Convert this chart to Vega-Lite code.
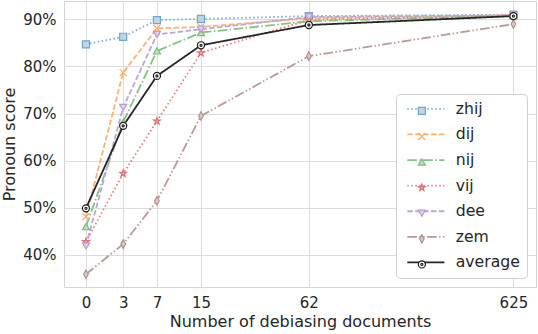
{
  "$schema": "https://vega.github.io/schema/vega-lite/v6.json",
  "width": 472,
  "height": 286,
  "autosize": {"type": "none"},
  "padding": {"left": 64, "top": 1, "right": 2, "bottom": 47},
  "background": "white",
  "config": {
    "font": "DejaVu Sans",
    "view": {"stroke": "#d4d4d4", "strokeWidth": 1},
    "axis": {
      "grid": true,
      "gridColor": "#dcdcdc",
      "gridWidth": 1,
      "domain": false,
      "ticks": false,
      "labelFont": "DejaVu Sans",
      "titleFont": "DejaVu Sans",
      "labelFontSize": 15,
      "titleFontSize": 16,
      "labelColor": "#262626",
      "titleColor": "#262626",
      "titleFontWeight": "normal"
    },
    "legend": {
      "labelFont": "DejaVu Sans",
      "labelFontSize": 15.7,
      "labelColor": "#262626"
    }
  },
  "data": {
    "values": [
      {"doc": 0, "series": "zhij", "score": 0.847},
      {"doc": 3, "series": "zhij", "score": 0.863},
      {"doc": 7, "series": "zhij", "score": 0.8985},
      {"doc": 15, "series": "zhij", "score": 0.901},
      {"doc": 62, "series": "zhij", "score": 0.907},
      {"doc": 625, "series": "zhij", "score": 0.910},
      {"doc": 0, "series": "dij", "score": 0.481},
      {"doc": 3, "series": "dij", "score": 0.787},
      {"doc": 7, "series": "dij", "score": 0.881},
      {"doc": 15, "series": "dij", "score": 0.884},
      {"doc": 62, "series": "dij", "score": 0.902},
      {"doc": 625, "series": "dij", "score": 0.909},
      {"doc": 0, "series": "nij", "score": 0.460},
      {"doc": 3, "series": "nij", "score": 0.682},
      {"doc": 7, "series": "nij", "score": 0.833},
      {"doc": 15, "series": "nij", "score": 0.872},
      {"doc": 62, "series": "nij", "score": 0.896},
      {"doc": 625, "series": "nij", "score": 0.908},
      {"doc": 0, "series": "vij", "score": 0.428},
      {"doc": 3, "series": "vij", "score": 0.573},
      {"doc": 7, "series": "vij", "score": 0.684},
      {"doc": 15, "series": "vij", "score": 0.829},
      {"doc": 62, "series": "vij", "score": 0.899},
      {"doc": 625, "series": "vij", "score": 0.907},
      {"doc": 0, "series": "dee", "score": 0.419},
      {"doc": 3, "series": "dee", "score": 0.713},
      {"doc": 7, "series": "dee", "score": 0.868},
      {"doc": 15, "series": "dee", "score": 0.879},
      {"doc": 62, "series": "dee", "score": 0.905},
      {"doc": 625, "series": "dee", "score": 0.909},
      {"doc": 0, "series": "zem", "score": 0.359},
      {"doc": 3, "series": "zem", "score": 0.423},
      {"doc": 7, "series": "zem", "score": 0.515},
      {"doc": 15, "series": "zem", "score": 0.695},
      {"doc": 62, "series": "zem", "score": 0.822},
      {"doc": 625, "series": "zem", "score": 0.890},
      {"doc": 0, "series": "average", "score": 0.499},
      {"doc": 3, "series": "average", "score": 0.674},
      {"doc": 7, "series": "average", "score": 0.780},
      {"doc": 15, "series": "average", "score": 0.845},
      {"doc": 62, "series": "average", "score": 0.888},
      {"doc": 625, "series": "average", "score": 0.907}
    ]
  },
  "encoding": {
    "x": {
      "field": "doc",
      "type": "quantitative",
      "title": "Number of debiasing documents",
      "scale": {"type": "symlog", "constant": 6, "domain": [-1.62, 801], "nice": false, "zero": false},
      "axis": {"values": [0, 3, 7, 15, 62, 625], "labelPadding": 8, "titlePadding": 3, "labelFlush": false}
    },
    "y": {
      "field": "score",
      "type": "quantitative",
      "title": "Pronoun score",
      "scale": {"domain": [0.332, 0.939], "nice": false, "zero": false},
      "axis": {"values": [0.4, 0.5, 0.6, 0.7, 0.8, 0.9], "format": ".0%", "labelPadding": 8, "titlePadding": 5}
    }
  },
  "layer": [
    {
      "mark": {"type": "line", "strokeWidth": 1.8},
      "encoding": {
        "color": {
          "field": "series",
          "type": "nominal",
          "scale": {
            "domain": ["zhij", "dij", "nij", "vij", "dee", "zem", "average"],
            "range": ["#79add2", "#ffb26e", "#80c680", "#e67d7e", "#bfa4d7", "#ba9a93", "#262626"]
          },
          "legend": {
            "title": null,
            "orient": "bottom-right",
            "offset": 9,
            "padding": 7,
            "fillColor": "white",
            "strokeColor": "#d0d0d0",
            "cornerRadius": 4,
            "symbolType": "M-1,0L9.5,0",
            "symbolSize": 50,
            "symbolStrokeWidth": 1.8,
            "labelOffset": 37,
            "rowPadding": 8.6
          }
        },
        "strokeDash": {
          "field": "series",
          "type": "nominal",
          "scale": {
            "domain": ["zhij", "dij", "nij", "vij", "dee", "zem", "average"],
            "range": [[1.5, 2.5], [5.5, 2.4], [9.6, 2.4, 1.5, 2.4], [1.5, 2.5], [5.5, 2.4], [9.6, 2.4, 1.5, 2.4, 1.5, 2.4], [1, 0]]
          },
          "legend": {
            "title": null,
            "orient": "bottom-right",
            "offset": 9,
            "padding": 7,
            "fillColor": "white",
            "strokeColor": "#d0d0d0",
            "cornerRadius": 4,
            "symbolType": "M-1,0L9.5,0",
            "symbolSize": 50,
            "symbolStrokeWidth": 1.8,
            "labelOffset": 37,
            "rowPadding": 8.6
          }
        }
      }
    },
    {
      "mark": {"type": "point", "filled": true, "opacity": 1, "strokeWidth": 1.2, "size": 50},
      "encoding": {
        "fill": {
          "field": "series",
          "type": "nominal",
          "sort": ["zhij", "dij", "nij", "vij", "dee", "zem", "average"],
          "scale": {
            "range": ["#bcd6e8", "#ffd9b7", "#c0e2c0", "#f3bebe", "#dfd1eb", "#dcccc9", "#ffffff"]
          },
          "legend": null
        },
        "stroke": {
          "field": "series",
          "type": "nominal",
          "sort": ["zhij", "dij", "nij", "vij", "dee", "zem", "average"],
          "scale": {
            "range": ["#6fa6ce", "#ffaa60", "#75c075", "#e27071", "#b79bd2", "#b3918a", "#1a1a1a"]
          },
          "legend": null
        },
        "shape": {
          "field": "series",
          "type": "nominal",
          "sort": ["zhij", "dij", "nij", "vij", "dee", "zem", "average"],
          "scale": {
            "range": [
              "square",
              "M-1,-1L1,1M-1,1L1,-1",
              "triangle-up",
              "M0,-1L0.22,-0.31L0.95,-0.31L0.36,0.12L0.59,0.81L0,0.38L-0.59,0.81L-0.36,0.12L-0.95,-0.31L-0.22,-0.31Z",
              "triangle-down",
              "M0,-1.2L0.65,0L0,1.2L-0.65,0Z",
              "M1,0A1,1 0 1,1 -1,0A1,1 0 1,1 1,0ZM0.3,0A0.3,0.3 0 1,1 -0.3,0A0.3,0.3 0 1,1 0.3,0Z"
            ]
          },
          "legend": {
            "title": null,
            "orient": "none",
            "legendX": 350,
            "legendY": 102,
            "padding": 0,
            "labelExpr": "''",
            "labelOpacity": 0,
            "symbolSize": 50,
            "symbolStrokeWidth": 1.2,
            "symbolOpacity": 1,
            "rowPadding": 8.6,
            "symbolFillColor": {"expr": "['#bcd6e8', '#ffd9b7', '#c0e2c0', '#f3bebe', '#dfd1eb', '#dcccc9', '#ffffff'][indexof(['zhij', 'dij', 'nij', 'vij', 'dee', 'zem', 'average'], datum.value)]"},
            "symbolStrokeColor": {"expr": "['#6fa6ce', '#ffaa60', '#75c075', '#e27071', '#b79bd2', '#b3918a', '#1a1a1a'][indexof(['zhij', 'dij', 'nij', 'vij', 'dee', 'zem', 'average'], datum.value)]"}
          }
        }
      }
    }
  ]
}
